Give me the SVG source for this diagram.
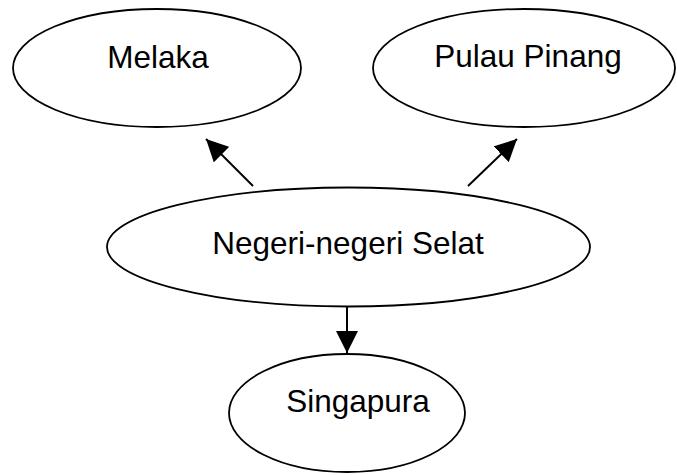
<svg xmlns="http://www.w3.org/2000/svg" width="677" height="475" viewBox="0 0 677 475">
<style>
.node ellipse{fill:#fff;stroke:#000;stroke-width:1.8}
.node text{font-family:"Liberation Sans",Arial,sans-serif;font-size:31.5px;fill:#000;text-anchor:middle}
.edge{stroke:#000;stroke-width:2;fill:none;marker-end:url(#ah)}
</style>
<defs>
<marker id="ah" markerUnits="userSpaceOnUse" markerWidth="22" markerHeight="22" refX="20" refY="10" orient="auto" viewBox="0 0 20 20">
<path d="M0,0 L20,10 L0,20 z" fill="#000"/>
</marker>
</defs>
<rect width="677" height="475" fill="#fff"/>
<g id="melaka" class="node">
<ellipse cx="157" cy="68" rx="144" ry="59"/>
<text x="158" y="68">Melaka</text>
</g>
<g id="pulau-pinang" class="node">
<ellipse cx="524" cy="68" rx="151" ry="59"/>
<text x="528" y="67">Pulau Pinang</text>
</g>
<g id="negeri" class="node">
<ellipse cx="348.5" cy="247" rx="241.5" ry="59.5"/>
<text x="348" y="254">Negeri-negeri Selat</text>
</g>
<g id="singapura" class="node">
<ellipse cx="347" cy="413" rx="118" ry="59"/>
<text x="358" y="412">Singapura</text>
</g>
<g id="connectors">
<line class="edge" x1="253" y1="186" x2="206" y2="139"/>
<line class="edge" x1="468" y1="186" x2="517" y2="139"/>
<line class="edge" x1="347" y1="306" x2="347" y2="353"/>
</g>
</svg>
